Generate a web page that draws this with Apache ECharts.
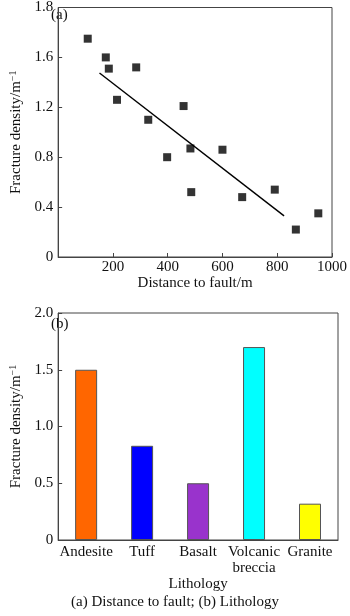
<!DOCTYPE html>
<html>
<head>
<meta charset="utf-8">
<script src="https://cdn.jsdelivr.net/npm/echarts@6/dist/echarts.min.js"></script>
<style>
html,body{margin:0;padding:0;background:#fff;}
#chart{width:350px;height:616px;}
</style>
</head>
<body>
<div id="chart"></div>
<script>
// ---- Data (a): fracture density vs distance to fault ----
const distance = [108, 174, 185, 285, 215, 329, 458, 398, 483, 486, 600, 672, 791, 868, 950];
const densityA = [1.75, 1.60, 1.51, 1.52, 1.26, 1.10, 1.21, 0.80, 0.87, 0.52, 0.86, 0.48, 0.54, 0.22, 0.35];
const fitLineX = [151, 825];
const fitLineY = [1.475, 0.33];
const yTickLabelsA = ["0", "0.4", "0.8", "1.2", "1.6", "1.8"];
const xTickLabelsA = ["", "200", "400", "600", "800", "1000"];

// ---- Data (b): fracture density by lithology ----
const lithology = ["Andesite", "Tuff", "Basalt", "Volcanic\nbreccia", "Granite"];
const densityB = [1.50, 0.83, 0.50, 1.70, 0.32];
const barColors = ["#FF6600", "#0000FF", "#9933CC", "#00FFFF", "#FFFF00"];
const yTickLabelsB = ["0", "0.5", "1.0", "1.5", "2.0"];

const FONT = "Liberation Serif";
const AX = "#444";
const TXT = "#111";

const chart = echarts.init(document.getElementById('chart'), null, {renderer: 'canvas'});

const yName = 'Fracture density/m{sup|−1}';
const nameStyle = {
  fontFamily: FONT, fontSize: 15, color: TXT,
  rich: { sup: { fontFamily: FONT, fontSize: 10, color: TXT, verticalAlign: 'top', padding: [0, 0, 6, 0] } }
};

const option = {
  animation: false,
  backgroundColor: '#fff',
  textStyle: { fontFamily: FONT },
  title: {
    text: '(a) Distance to fault; (b) Lithology',
    left: 'center', bottom: 1,
    textStyle: { fontFamily: FONT, fontSize: 15, fontWeight: 'normal', color: TXT }
  },
  graphic: [
    { type: 'text', left: 51, top: 8, style: { text: '(a)', font: '15px "Liberation Serif"', fill: TXT } },
    { type: 'text', left: 51, top: 317, style: { text: '(b)', font: '15px "Liberation Serif"', fill: TXT } }
  ],
  grid: [
    { left: 45, right: 12, top: 3, height: 254, show: true, borderColor: AX, borderWidth: 1, backgroundColor: 'transparent' },
    { left: 45, right: 12, top: 313, height: 227, show: true, borderColor: AX, borderWidth: 1, backgroundColor: 'transparent' }
  ],
  xAxis: [
    {
      gridIndex: 0, type: 'value', min: 0, max: 1000, interval: 200,
      name: 'Distance to fault/m', nameLocation: 'middle', nameGap: 14,
      nameTextStyle: { fontFamily: FONT, fontSize: 15, color: TXT },
      axisLine: { lineStyle: { color: AX } },
      axisTick: { inside: true, length: 4, lineStyle: { color: AX } },
      axisLabel: { margin: 3, fontFamily: FONT, fontSize: 15, color: TXT,
        formatter: (v) => xTickLabelsA[Math.round(v / 200)] },
      splitLine: { show: false }
    },
    {
      gridIndex: 1, type: 'category', data: lithology,
      name: 'Lithology', nameLocation: 'middle', nameGap: 36,
      nameTextStyle: { fontFamily: FONT, fontSize: 15, color: TXT },
      axisLine: { lineStyle: { color: AX } },
      axisTick: { show: false },
      axisLabel: { margin: 4, fontFamily: FONT, fontSize: 15, color: TXT, lineHeight: 16, interval: 0 },
      splitLine: { show: false }
    }
  ],
  yAxis: [
    {
      gridIndex: 0, type: 'value', min: 0, max: 2.0, interval: 0.4,
      name: yName, nameLocation: 'middle', nameGap: 33, nameTextStyle: nameStyle,
      axisLine: { show: true, lineStyle: { color: AX } },
      axisTick: { show: true, inside: true, length: 4, lineStyle: { color: AX } },
      axisLabel: { margin: 5, fontFamily: FONT, fontSize: 15, color: TXT,
        formatter: (v) => yTickLabelsA[Math.round(v / 0.4)] },
      splitLine: { show: false }
    },
    {
      gridIndex: 1, type: 'value', min: 0, max: 2.0, interval: 0.5,
      name: yName, nameLocation: 'middle', nameGap: 33, nameTextStyle: nameStyle,
      axisLine: { show: true, lineStyle: { color: AX } },
      axisTick: { show: true, inside: true, length: 4, lineStyle: { color: AX } },
      axisLabel: { margin: 5, fontFamily: FONT, fontSize: 15, color: TXT,
        formatter: (v) => yTickLabelsB[Math.round(v / 0.5)] },
      splitLine: { show: false }
    }
  ],
  series: [
    {
      type: 'scatter', xAxisIndex: 0, yAxisIndex: 0,
      symbol: 'rect', symbolSize: 8,
      itemStyle: { color: '#000' },
      data: distance.map((d, i) => [d, densityA[i]])
    },
    {
      type: 'line', xAxisIndex: 0, yAxisIndex: 0,
      symbol: 'none', lineStyle: { color: '#000', width: 1.4 },
      data: fitLineX.map((d, i) => [d, fitLineY[i]])
    },
    {
      type: 'bar', xAxisIndex: 1, yAxisIndex: 1,
      barWidth: 22,
      data: densityB.map((v, i) => ({ value: v, itemStyle: { color: barColors[i], borderColor: '#555', borderWidth: 1 } }))
    }
  ]
};
chart.setOption(option);
</script>
</body>
</html>
